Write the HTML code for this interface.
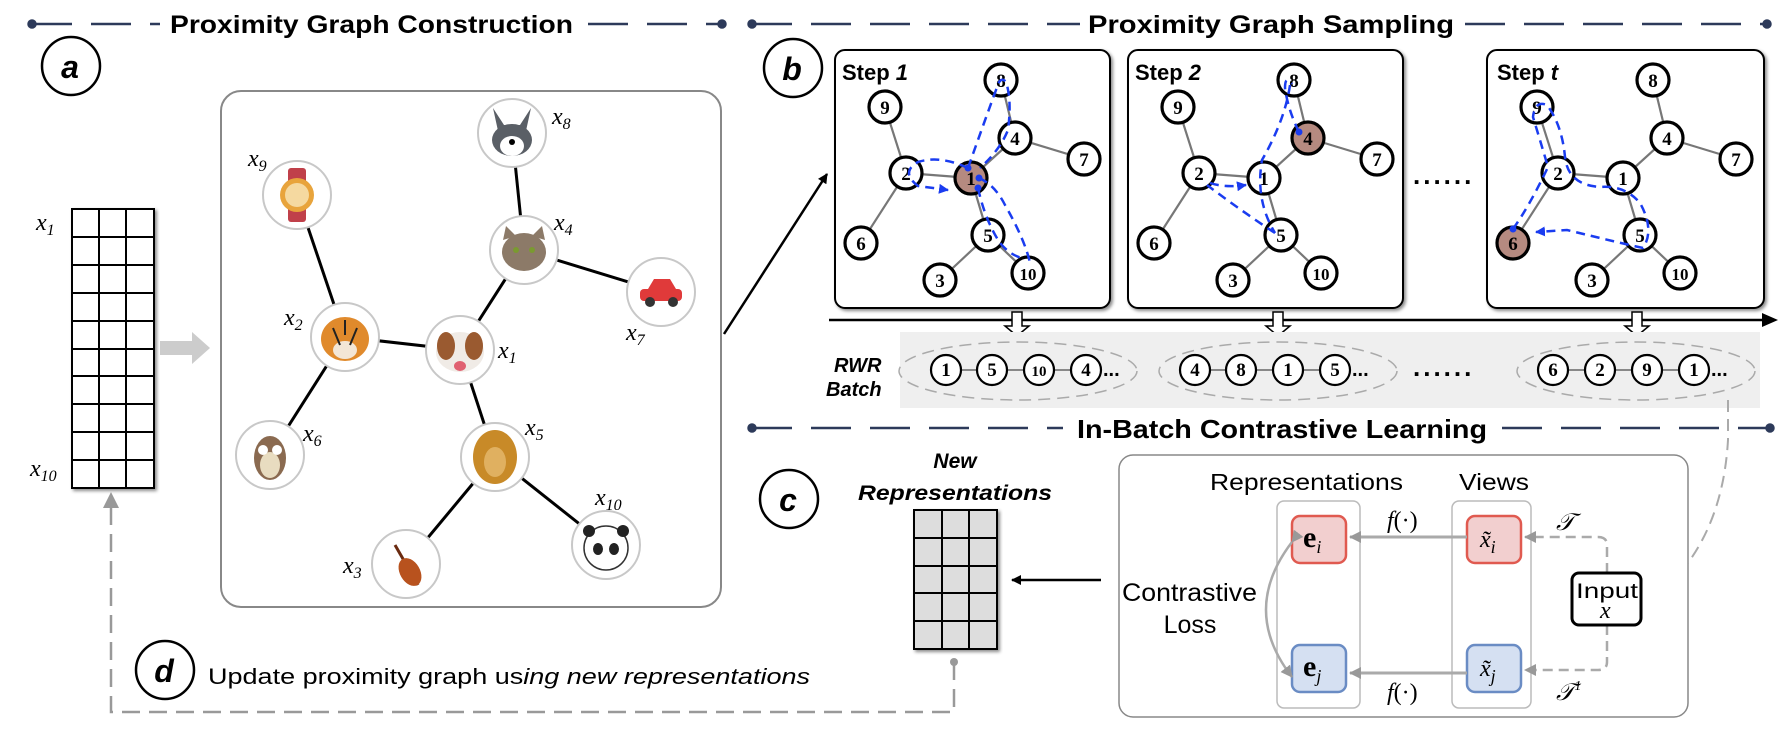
<!DOCTYPE html>
<html><head><meta charset="utf-8"><style>
html,body{margin:0;padding:0;background:#fff;}
svg{display:block;}
.h{font-family:"Liberation Sans",sans-serif;font-weight:bold;fill:#000;}
.r{font-family:"Liberation Sans",sans-serif;fill:#000;}
.n{font-family:"Liberation Serif",serif;font-weight:bold;font-size:19px;text-anchor:middle;}
.m{font-family:"Liberation Serif",serif;font-style:italic;font-size:24px;}
.ms{font-family:"Liberation Serif",serif;font-size:16px;}
</style></head><body>
<svg width="1788" height="734" viewBox="0 0 1788 734" xmlns="http://www.w3.org/2000/svg">
<defs>
<marker id="ab" markerWidth="10" markerHeight="10" refX="9" refY="5" orient="auto" markerUnits="userSpaceOnUse"><path d="M0,0 L10,5 L0,10 z" fill="#000"/></marker>
<marker id="ag" markerWidth="12" markerHeight="12" refX="11" refY="6" orient="auto" markerUnits="userSpaceOnUse"><path d="M0,0 L12,6 L0,12 z" fill="#999"/></marker>
<marker id="ablue" markerWidth="10" markerHeight="10" refX="9" refY="5" orient="auto" markerUnits="userSpaceOnUse"><path d="M0,0 L10,5 L0,10 z" fill="#1a3cf0"/></marker>
<filter id="sh" x="-5%" y="-5%" width="112%" height="112%"><feDropShadow dx="2" dy="2" stdDeviation="1.5" flood-color="#000" flood-opacity="0.45"/></filter>
</defs>

<!-- headers -->
<g stroke="#2d3a5a" stroke-width="2.5" fill="#2d3a5a">
<line x1="32" y1="24" x2="160" y2="24" stroke-dasharray="40 19"/>
<line x1="588" y1="24" x2="722" y2="24" stroke-dasharray="40 19"/>
<circle cx="32" cy="24" r="3.5"/><circle cx="722" cy="24" r="3.5"/>
<line x1="752" y1="24" x2="1080" y2="24" stroke-dasharray="40 19"/>
<line x1="1465" y1="24" x2="1767" y2="24" stroke-dasharray="40 19"/>
<circle cx="752" cy="24" r="3.5"/><circle cx="1767" cy="24" r="3.5"/>
<line x1="752" y1="428" x2="1063" y2="428" stroke-dasharray="40 19"/>
<line x1="1502" y1="428" x2="1770" y2="428" stroke-dasharray="40 19"/>
<circle cx="752" cy="428" r="3.5"/><circle cx="1770" cy="428" r="3.5"/>
</g>
<text class="h" x="170" y="33" font-size="25" textLength="403" lengthAdjust="spacingAndGlyphs">Proximity Graph Construction</text>
<text class="h" x="1088" y="33" font-size="25" textLength="366" lengthAdjust="spacingAndGlyphs">Proximity Graph Sampling</text>
<text class="h" x="1077" y="438" font-size="26" textLength="410" lengthAdjust="spacingAndGlyphs">In-Batch Contrastive Learning</text>

<!-- circle labels -->
<g fill="#fff" stroke="#000" stroke-width="2.5">
<circle cx="71" cy="66" r="29"/><circle cx="793" cy="68" r="29"/><circle cx="789" cy="499" r="29"/><circle cx="165" cy="670" r="29"/>
</g>
<g class="h" font-size="32" font-style="italic" text-anchor="middle">
<text x="70" y="78">a</text><text x="792" y="80">b</text><text x="788" y="511">c</text><text x="164" y="682">d</text>
</g>

<!-- left matrix -->
<g filter="url(#sh)"><rect x="72" y="209" width="82" height="279" fill="#fff" stroke="#000" stroke-width="2"/></g>
<g stroke="#000" stroke-width="2">
<line x1="99" y1="209" x2="99" y2="488"/><line x1="126" y1="209" x2="126" y2="488"/>
<line x1="72" y1="237" x2="154" y2="237"/><line x1="72" y1="265" x2="154" y2="265"/><line x1="72" y1="293" x2="154" y2="293"/><line x1="72" y1="321" x2="154" y2="321"/><line x1="72" y1="349" x2="154" y2="349"/><line x1="72" y1="376" x2="154" y2="376"/><line x1="72" y1="404" x2="154" y2="404"/><line x1="72" y1="432" x2="154" y2="432"/><line x1="72" y1="460" x2="154" y2="460"/>
</g>
<text class="m" x="36" y="230">x<tspan class="ms" dy="5">1</tspan></text>
<text class="m" x="30" y="476">x<tspan class="ms" dy="5">10</tspan></text>
<path d="M160,341 L192,341 L192,332 L210,348 L192,364 L192,355 L160,355 z" fill="#ccc"/>

<!-- graph box -->
<rect x="221" y="91" width="500" height="516" rx="20" fill="#fff" stroke="#888" stroke-width="2"/>
<g stroke="#000" stroke-width="3">
<line x1="512" y1="133" x2="524" y2="250"/><line x1="297" y1="195" x2="345" y2="337"/>
<line x1="524" y1="250" x2="661" y2="292"/><line x1="524" y1="250" x2="460" y2="350"/>
<line x1="345" y1="337" x2="460" y2="350"/><line x1="345" y1="337" x2="270" y2="455"/>
<line x1="460" y1="350" x2="495" y2="457"/><line x1="495" y1="457" x2="406" y2="564"/><line x1="495" y1="457" x2="606" y2="545"/>
</g>
<g stroke="#c8c8c8" stroke-width="2" fill="#fff">
<circle cx="512" cy="133" r="34"/><circle cx="297" cy="195" r="34"/><circle cx="524" cy="250" r="34"/><circle cx="661" cy="292" r="34"/>
<circle cx="345" cy="337" r="34"/><circle cx="460" cy="350" r="34"/><circle cx="270" cy="455" r="34"/><circle cx="495" cy="457" r="34"/>
<circle cx="406" cy="564" r="34"/><circle cx="606" cy="545" r="34"/>
</g>
<g>
<path d="M493,108 L500,140 L524,140 L531,108 L520,125 L504,125z" fill="#5a5f66"/><ellipse cx="512" cy="140" rx="20" ry="16" fill="#5a5f66"/><ellipse cx="512" cy="146" rx="12" ry="10" fill="#fff"/><circle cx="512" cy="142" r="3" fill="#000"/>
<rect x="288" y="168" width="18" height="54" rx="3" fill="#c0404a"/><circle cx="297" cy="195" r="17" fill="#e8a43c"/><circle cx="297" cy="195" r="12" fill="#f5d9a0"/>
<ellipse cx="524" cy="252" rx="22" ry="19" fill="#8c7a68"/><path d="M503,240 L506,226 L516,236z M545,240 L542,226 L532,236z" fill="#8c7a68"/><circle cx="516" cy="250" r="3" fill="#7a9a30"/><circle cx="532" cy="250" r="3" fill="#7a9a30"/>
<rect x="640" y="289" width="42" height="12" rx="4" fill="#e03a3a"/><path d="M648,289 L654,279 L670,279 L676,289z" fill="#e03a3a"/><circle cx="650" cy="302" r="5" fill="#333"/><circle cx="673" cy="302" r="5" fill="#333"/>
<ellipse cx="345" cy="339" rx="24" ry="22" fill="#e08a2c"/><ellipse cx="345" cy="350" rx="12" ry="9" fill="#f3e6d6"/><path d="M333,328 L340,345 M357,328 L350,345 M345,320 L345,335" stroke="#222" stroke-width="2"/>
<ellipse cx="460" cy="352" rx="24" ry="20" fill="#f0ebe6"/><ellipse cx="446" cy="346" rx="9" ry="14" fill="#9a5a30"/><ellipse cx="474" cy="346" rx="9" ry="14" fill="#9a5a30"/><ellipse cx="460" cy="366" rx="6" ry="5" fill="#e06070"/>
<ellipse cx="270" cy="458" rx="16" ry="22" fill="#8a6a50"/><ellipse cx="270" cy="465" rx="10" ry="13" fill="#e8dcc0"/><circle cx="263" cy="450" r="5" fill="#fff"/><circle cx="277" cy="450" r="5" fill="#fff"/>
<ellipse cx="495" cy="457" rx="22" ry="27" fill="#c88a28"/><ellipse cx="495" cy="462" rx="11" ry="15" fill="#e0b060"/>
<path d="M395,545 L418,585" stroke="#6a2a10" stroke-width="3"/><ellipse cx="410" cy="572" rx="10" ry="15" fill="#b8521e" transform="rotate(-30 410 572)"/>
<circle cx="606" cy="548" r="22" fill="#fff" stroke="#333" stroke-width="1.5"/><circle cx="589" cy="531" r="6" fill="#222"/><circle cx="623" cy="531" r="6" fill="#222"/><ellipse cx="598" cy="549" rx="5" ry="6" fill="#222"/><ellipse cx="614" cy="549" rx="5" ry="6" fill="#222"/>
</g>
<g class="m">
<text x="552" y="124">x<tspan class="ms" dy="5">8</tspan></text>
<text x="248" y="166">x<tspan class="ms" dy="5">9</tspan></text>
<text x="554" y="230">x<tspan class="ms" dy="5">4</tspan></text>
<text x="626" y="340">x<tspan class="ms" dy="5">7</tspan></text>
<text x="284" y="325">x<tspan class="ms" dy="5">2</tspan></text>
<text x="498" y="358">x<tspan class="ms" dy="5">1</tspan></text>
<text x="303" y="441">x<tspan class="ms" dy="5">6</tspan></text>
<text x="525" y="435">x<tspan class="ms" dy="5">5</tspan></text>
<text x="595" y="505">x<tspan class="ms" dy="5">10</tspan></text>
<text x="343" y="573">x<tspan class="ms" dy="5">3</tspan></text>
</g>

<line x1="724" y1="334" x2="827" y2="174" stroke="#000" stroke-width="2.5" marker-end="url(#ab)"/>

<!-- step boxes -->
<g filter="url(#sh)" fill="#fff" stroke="#000" stroke-width="2">
<rect x="835" y="50" width="275" height="258" rx="10"/>
<rect x="1128" y="50" width="275" height="258" rx="10"/>
<rect x="1487" y="50" width="277" height="258" rx="10"/>
</g>
<text class="h" x="842" y="80" font-size="22">Step <tspan font-style="italic">1</tspan></text>
<text class="h" x="1135" y="80" font-size="22">Step <tspan font-style="italic">2</tspan></text>
<text class="h" x="1497" y="80" font-size="22">Step <tspan font-style="italic">t</tspan></text>

<g id="g1">
<g stroke="#777" stroke-width="2.2">
<line x1="885" y1="107" x2="906" y2="173"/><line x1="906" y1="173" x2="971" y2="178"/><line x1="906" y1="173" x2="861" y2="243"/>
<line x1="971" y1="178" x2="1015" y2="138"/><line x1="1015" y1="138" x2="1001" y2="80"/><line x1="1015" y1="138" x2="1084" y2="159"/>
<line x1="971" y1="178" x2="988" y2="235"/><line x1="988" y1="235" x2="940" y2="280"/><line x1="988" y1="235" x2="1028" y2="273"/>
</g>
</g>
<use href="#g1" x="293" y="0"/>
<use href="#g1" x="652" y="0"/>
<g stroke="#000" stroke-width="3.2" fill="#fff">
<circle cx="885" cy="107" r="16"/><circle cx="906" cy="173" r="16"/><circle cx="971" cy="178" r="16" fill="#b58a80"/><circle cx="1001" cy="80" r="16"/><circle cx="1015" cy="138" r="16"/><circle cx="1084" cy="159" r="16"/><circle cx="861" cy="243" r="16"/><circle cx="988" cy="235" r="16"/><circle cx="940" cy="280" r="16"/><circle cx="1028" cy="273" r="16"/>
<circle cx="1178" cy="107" r="16"/><circle cx="1199" cy="173" r="16"/><circle cx="1264" cy="178" r="16"/><circle cx="1294" cy="80" r="16"/><circle cx="1308" cy="138" r="16" fill="#b58a80"/><circle cx="1377" cy="159" r="16"/><circle cx="1154" cy="243" r="16"/><circle cx="1281" cy="235" r="16"/><circle cx="1233" cy="280" r="16"/><circle cx="1321" cy="273" r="16"/>
<circle cx="1537" cy="107" r="16"/><circle cx="1558" cy="173" r="16"/><circle cx="1623" cy="178" r="16"/><circle cx="1653" cy="80" r="16"/><circle cx="1667" cy="138" r="16"/><circle cx="1736" cy="159" r="16"/><circle cx="1513" cy="243" r="16" fill="#b58a80"/><circle cx="1640" cy="235" r="16"/><circle cx="1592" cy="280" r="16"/><circle cx="1680" cy="273" r="16"/>
</g>
<g class="n">
<text x="885" y="114">9</text><text x="906" y="180">2</text><text x="971" y="185">1</text><text x="1001" y="87">8</text><text x="1015" y="145">4</text><text x="1084" y="166">7</text><text x="861" y="250">6</text><text x="988" y="242">5</text><text x="940" y="287">3</text><text x="1028" y="280" font-size="17">10</text>
<text x="1178" y="114">9</text><text x="1199" y="180">2</text><text x="1264" y="185">1</text><text x="1294" y="87">8</text><text x="1308" y="145">4</text><text x="1377" y="166">7</text><text x="1154" y="250">6</text><text x="1281" y="242">5</text><text x="1233" y="287">3</text><text x="1321" y="280" font-size="17">10</text>
<text x="1537" y="114">9</text><text x="1558" y="180">2</text><text x="1623" y="185">1</text><text x="1653" y="87">8</text><text x="1667" y="145">4</text><text x="1736" y="166">7</text><text x="1513" y="250">6</text><text x="1640" y="242">5</text><text x="1592" y="287">3</text><text x="1680" y="280" font-size="17">10</text>
</g>
<g fill="none" stroke="#1a3cf0" stroke-width="2.5" stroke-dasharray="9 6">
<path d="M968,168 Q940,155 918,162 Q900,172 918,186 L948,190" marker-end="url(#ablue)"/>
<path d="M968,168 Q985,120 996,90 Q1000,75 1006,82 Q1012,100 1008,130 Q1000,150 980,168"/>
<path d="M979,178 Q995,185 1005,205 Q1025,240 1030,263"/>
<path d="M978,188 Q985,220 1000,243 Q1010,255 1022,258"/>
<path d="M1299,132 Q1288,110 1285,88 Q1285,75 1292,84"/>
<path d="M1290,85 Q1285,120 1262,160 Q1255,200 1275,233"/>
<path d="M1275,233 Q1240,210 1207,185"/>
<path d="M1210,183 Q1225,188 1246,185" marker-end="url(#ablue)"/>
<path d="M1513,229 Q1530,205 1548,167 Q1540,140 1533,117 Q1535,100 1547,105 Q1562,125 1565,157 Q1568,185 1600,187 Q1625,185 1640,203 Q1655,230 1643,248 Q1620,243 1567,230 L1536,232" marker-end="url(#ablue)"/>
</g>
<g fill="#1a3cf0"><circle cx="968" cy="168" r="3.5"/><circle cx="979" cy="178" r="3.5"/><circle cx="978" cy="188" r="3.5"/><circle cx="1299" cy="132" r="3.5"/><circle cx="1513" cy="229" r="3.5"/></g>
<g class="h" font-size="26"><text x="1413" y="184" letter-spacing="3">......</text></g>

<!-- timeline -->
<line x1="829" y1="320" x2="1768" y2="320" stroke="#000" stroke-width="2.5"/>
<path d="M1762,313 L1778,320 L1762,327z" fill="#000"/>
<g fill="#fff" stroke="#000" stroke-width="1.5">
<path d="M1012,312 L1022,312 L1022,326 L1029,326 L1017,336 L1005,326 L1012,326z"/>
<path d="M1273,312 L1283,312 L1283,326 L1290,326 L1278,336 L1266,326 L1273,326z"/>
<path d="M1632,312 L1642,312 L1642,326 L1649,326 L1637,336 L1625,326 L1632,326z"/>
</g>
<rect x="900" y="332" width="860" height="76" fill="#efefef"/>
<text class="h" x="834" y="372" font-size="20" font-style="italic">RWR</text>
<text class="h" x="826" y="396" font-size="20" font-style="italic">Batch</text>
<g fill="none" stroke="#aaa" stroke-width="1.5" stroke-dasharray="12 7">
<ellipse cx="1018" cy="371" rx="119" ry="29"/><ellipse cx="1278" cy="371" rx="119" ry="29"/><ellipse cx="1636" cy="371" rx="119" ry="29"/>
</g>
<g stroke="#888" stroke-width="2">
<line x1="943" y1="370" x2="1086" y2="370"/>
<line x1="1191" y1="370" x2="1335" y2="370"/>
<line x1="1553" y1="370" x2="1694" y2="370"/>
</g>
<g fill="#fff" stroke="#000" stroke-width="2.2">
<circle cx="946" cy="370" r="15"/><circle cx="992" cy="370" r="15"/><circle cx="1039" cy="370" r="15"/><circle cx="1086" cy="370" r="15"/>
<circle cx="1195" cy="370" r="15"/><circle cx="1241" cy="370" r="15"/><circle cx="1288" cy="370" r="15"/><circle cx="1335" cy="370" r="15"/>
<circle cx="1553" cy="370" r="15"/><circle cx="1600" cy="370" r="15"/><circle cx="1647" cy="370" r="15"/><circle cx="1694" cy="370" r="15"/>
</g>
<g class="n" font-size="17">
<text x="946" y="376">1</text><text x="992" y="376">5</text><text x="1039" y="376" font-size="15">10</text><text x="1086" y="376">4</text>
<text x="1195" y="376">4</text><text x="1241" y="376">8</text><text x="1288" y="376">1</text><text x="1335" y="376">5</text>
<text x="1553" y="376">6</text><text x="1600" y="376">2</text><text x="1647" y="376">9</text><text x="1694" y="376">1</text>
</g>
<g class="h" font-size="20"><text x="1103" y="376">...</text><text x="1352" y="376">...</text><text x="1711" y="376">...</text><text x="1413" y="376" font-size="26" letter-spacing="3">......</text></g>

<!-- contrastive -->
<path d="M1728,400 L1728,440 Q1722,545 1652,600" fill="none" stroke="#aaa" stroke-width="2" stroke-dasharray="12 7" marker-end="url(#ag)"/>
<rect x="1119" y="455" width="569" height="262" rx="14" fill="#fff" stroke="#888" stroke-width="1.5"/>
<text class="r" x="1210" y="490" font-size="23" textLength="193" lengthAdjust="spacingAndGlyphs">Representations</text>
<text class="r" x="1459" y="490" font-size="23" textLength="70" lengthAdjust="spacingAndGlyphs">Views</text>
<rect x="1277" y="501" width="83" height="207" rx="7" fill="none" stroke="#bbb" stroke-width="1.5"/>
<rect x="1452" y="501" width="79" height="207" rx="7" fill="none" stroke="#bbb" stroke-width="1.5"/>
<rect x="1292" y="516" width="54" height="47" rx="8" fill="#f2cfcf" stroke="#e05a50" stroke-width="2.5"/>
<rect x="1292" y="645" width="54" height="47" rx="8" fill="#d5e0f2" stroke="#6a8cc4" stroke-width="2.5"/>
<rect x="1467" y="516" width="54" height="47" rx="8" fill="#f2cfcf" stroke="#e05a50" stroke-width="2.5"/>
<rect x="1467" y="645" width="54" height="47" rx="8" fill="#d5e0f2" stroke="#6a8cc4" stroke-width="2.5"/>
<text x="1303" y="547" font-family="Liberation Serif,serif" font-weight="bold" font-size="30">e<tspan font-style="italic" font-weight="normal" font-size="18" dy="6">i</tspan></text>
<text x="1303" y="676" font-family="Liberation Serif,serif" font-weight="bold" font-size="30">e<tspan font-style="italic" font-weight="normal" font-size="18" dy="6">j</tspan></text>
<text x="1480" y="547" class="m" font-size="28">x̃<tspan font-size="18" dy="6">i</tspan></text>
<text x="1480" y="676" class="m" font-size="28">x̃<tspan font-size="18" dy="6">j</tspan></text>
<line x1="1467" y1="537" x2="1350" y2="537" stroke="#aaa" stroke-width="3" marker-end="url(#ag)"/>
<line x1="1467" y1="673" x2="1350" y2="673" stroke="#aaa" stroke-width="3" marker-end="url(#ag)"/>
<text class="m" x="1387" y="528" font-size="22">f<tspan font-style="normal">(·)</tspan></text>
<text class="m" x="1387" y="700" font-size="22">f<tspan font-style="normal">(·)</tspan></text>
<text class="m" x="1556" y="530" font-size="24">𝒯</text>
<text class="m" x="1556" y="700" font-size="24">𝒯<tspan font-size="14" dy="-10">1</tspan></text>
<path d="M1607,573 L1607,545 Q1607,537 1598,537 L1525,537" fill="none" stroke="#aaa" stroke-width="2.5" stroke-dasharray="10 6" marker-end="url(#ag)"/>
<path d="M1607,625 L1607,662 Q1607,670 1598,670 L1525,670" fill="none" stroke="#aaa" stroke-width="2.5" stroke-dasharray="10 6" marker-end="url(#ag)"/>
<rect x="1572" y="573" width="69" height="52" rx="7" fill="#fff" stroke="#000" stroke-width="3"/>
<text class="r" x="1607" y="598" font-size="21" text-anchor="middle" textLength="62" lengthAdjust="spacingAndGlyphs">Input</text>
<text class="m" x="1600" y="618" font-size="22">x</text>
<text class="r" x="1122" y="601" font-size="25" textLength="135" lengthAdjust="spacingAndGlyphs">Contrastive</text>
<text class="r" x="1190" y="633" font-size="25" text-anchor="middle">Loss</text>
<path d="M1292,542 Q1240,610 1292,677" fill="none" stroke="#aaa" stroke-width="2.5" marker-start="url(#ag)" marker-end="url(#ag)"/>
<line x1="1101" y1="580" x2="1012" y2="580" stroke="#000" stroke-width="2.5" marker-end="url(#ab)"/>

<!-- new reps -->
<text class="h" x="955" y="468" font-size="21" font-style="italic" text-anchor="middle">New</text>
<text class="h" x="858" y="500" font-size="21" font-style="italic" textLength="194" lengthAdjust="spacingAndGlyphs">Representations</text>
<g filter="url(#sh)"><rect x="914" y="510" width="83" height="139" fill="#ddd" stroke="#000" stroke-width="2"/></g>
<g stroke="#000" stroke-width="2">
<line x1="942" y1="510" x2="942" y2="649"/><line x1="969" y1="510" x2="969" y2="649"/>
<line x1="914" y1="538" x2="997" y2="538"/><line x1="914" y1="566" x2="997" y2="566"/><line x1="914" y1="593" x2="997" y2="593"/><line x1="914" y1="621" x2="997" y2="621"/>
</g>

<!-- feedback -->
<circle cx="954" cy="662" r="4" fill="#999"/>
<path d="M954,662 L954,712 L111,712 L111,505" fill="none" stroke="#999" stroke-width="2.5" stroke-dasharray="18 9"/>
<path d="M103,508 L111,492 L119,508z" fill="#999"/>
<text x="208" y="684" font-family="Liberation Sans,sans-serif" font-size="22" textLength="602" lengthAdjust="spacingAndGlyphs">Update proximity graph us<tspan font-style="italic">ing new representations</tspan></text>
</svg>
</body></html>
